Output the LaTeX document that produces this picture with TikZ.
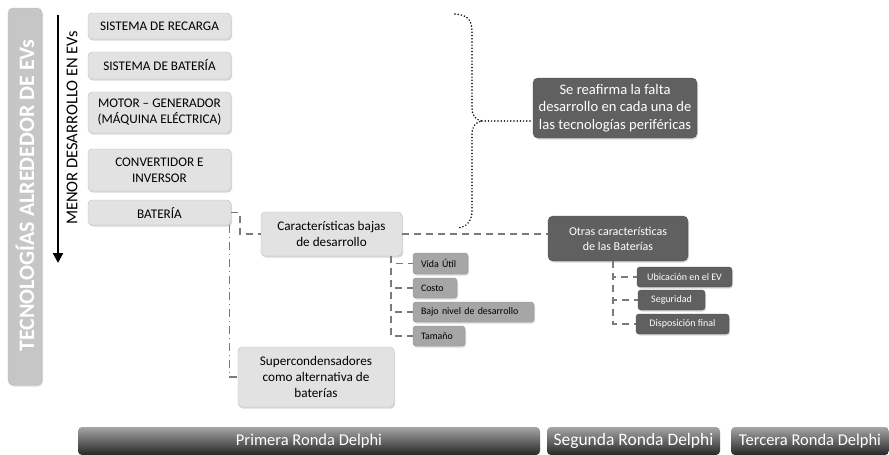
\documentclass[tikz,border=0pt]{standalone}
\usepackage{fontspec}
\setmainfont{Carlito}
\usetikzlibrary{arrows.meta,shadows}

\definecolor{boxlight}{HTML}{E2E2E2}
\definecolor{edgelight}{HTML}{BDBDBD}
\definecolor{boxmid}{HTML}{A6A6A6}
\definecolor{edgemid}{HTML}{8E8E8E}
\definecolor{boxdark}{HTML}{606060}
\definecolor{edgedark}{HTML}{505050}
\definecolor{boxtall}{HTML}{C6C6C6}
\definecolor{linegray}{HTML}{7A7A7A}

\tikzset{
  shade box/.style={drop shadow={shadow xshift=1pt,shadow yshift=-1.5pt,opacity=0.3}},
  tech/.style={shade box,draw=edgelight,fill=boxlight,rounded corners=4pt,align=center,
    inner sep=0pt,font=\fontsize{13.2}{16}\selectfont},
  note/.style={shade box,draw=edgedark,fill=boxdark,text=white,rounded corners=5pt,align=center,
    inner sep=0pt,font=\fontsize{12}{15}\selectfont},
  trait/.style={shade box,draw=edgemid,fill=boxmid,rounded corners=3pt,align=left,
    inner xsep=8pt,inner ysep=0pt,font=\fontsize{9.9}{11}\selectfont},
  trait dark/.style={shade box,draw=edgedark,fill=boxdark,text=white,rounded corners=3pt,align=center,
    inner sep=0pt,font=\fontsize{10}{11}\selectfont},
  round bar/.style={rounded corners=4pt,top color=gray!70,bottom color=black!85,draw=none,
    text=white,font=\fontsize{16.5}{18}\selectfont,inner sep=0pt},
  link/.style={linegray,line width=1.8pt,dash pattern=on 7pt off 5pt},
  link dot/.style={linegray,line width=1.3pt,dash pattern=on 8pt off 4pt on 0.8pt off 4pt},
  brace/.style={black,line width=1.7pt,line cap=round,dash pattern=on 0pt off 3.2pt},
}

\begin{document}
\begin{tikzpicture}[x=1pt,y=-1pt]
  \useasboundingbox (0,0) rectangle (889,455);

  % eje izquierdo
  \node[shade box,draw=gray!55,fill=boxtall,rounded corners=5pt,minimum width=34pt,minimum height=377pt,inner sep=0pt] (tall) at (25,196.5) {};
  \node[rotate=90,text=white,font=\fontsize{22}{24}\selectfont\bfseries] (talltext) at ([yshift=1pt]tall.center) {TECNOLOGÍAS ALREDEDOR DE EVs};
  \coordinate (axtop) at (58,15);
  \coordinate (axbot) at (58,263);
  \draw[line width=2.2pt,-{Triangle[width=10pt,length=10pt]}] (axtop) -- (axbot);
  \node[rotate=90,font=\fontsize{16.5}{18}\selectfont] (axis) at (72,128) {MENOR DESARROLLO EN EVs};

  % tecnologias
  \node[tech,minimum width=143pt,minimum height=26pt] (recarga) at (159.5,26) {SISTEMA DE RECARGA};
  \node[tech,minimum width=143pt,minimum height=27pt] (sistbat) at (159.5,65.5) {SISTEMA DE BATERÍA};
  \node[tech,minimum width=143pt,minimum height=41pt] (motor) at (159.5,112.5) {MOTOR – GENERADOR\\(MÁQUINA ELÉCTRICA)};
  \node[tech,minimum width=143pt,minimum height=42pt] (conv) at (159.5,170) {CONVERTIDOR E\\INVERSOR};
  \node[tech,minimum width=143pt,minimum height=25pt] (bat) at (159.5,212.5) {BATERÍA};

  % primera ronda
  \node[tech,minimum width=141pt,minimum height=44pt] (carac) at (331.5,234) {Características bajas\\de desarrollo};
  \node[tech,minimum width=156pt,minimum height=60pt] (super) at (316,377) {Supercondensadores\\como alternativa de\\baterías};
  \node[trait,text width=39pt,minimum height=21pt] (vida) at (440.5,263.5) {Vida Útil};
  \node[trait,text width=28pt,minimum height=20pt] (costo) at (435,288) {Costo};
  \node[trait,text width=105pt,minimum height=20pt] (bajo) at (473.5,312) {Bajo nivel de desarrollo};
  \node[trait,text width=36pt,minimum height=20pt] (tamano) at (439,336) {Tamaño};

  % segunda ronda
  \node[note,minimum width=164pt,minimum height=60pt,font=\fontsize{14.6}{17.5}\selectfont] (reaf) at (615,108) {Se reafirma la falta\\desarrollo en cada una de\\las tecnologías periféricas};
  \node[note,minimum width=140pt,minimum height=45pt] (otras) at (618,238.5) {Otras características\\de las Baterías};
  \node[trait dark,minimum width=95pt,minimum height=20pt] (ubic) at (684.5,277) {Ubicación en el EV};
  \node[trait dark,minimum width=67pt,minimum height=20pt] (segur) at (671.5,300) {Seguridad};
  \node[trait dark,minimum width=93pt,minimum height=20pt] (dispo) at (682.5,324) {Disposición final};

  % conectores
  \draw[link] (bat.east) -- ++(9,0) |- (carac.west);
  \draw[link dot] ([xshift=-2pt]bat.south east) |- (super.west);
  \draw[link] (carac.east) -- (carac.east -| otras.west);
  \foreach \t in {vida,costo,bajo,tamano}
    \draw[link] ([xshift=-11pt]carac.south east) |- (\t.west);
  \foreach \t in {ubic,segur,dispo}
    \draw[link] ([xshift=-5pt]otras.south) |- (\t.west);

  % llave punteada
  \coordinate (brtop) at (455,14);
  \coordinate (cusp) at (482,121);
  \coordinate (brbot) at (458,228);
  \draw[brace] (brtop) .. controls (468,15) and (472,20) .. (472,32) -- (472,108)
    .. controls (472,116) and (476,120) .. (cusp)
    .. controls (476,122) and (472,126) .. (472,134) -- (472,210)
    .. controls (472,222) and (466,227) .. (brbot);
  \draw[brace] (cusp) -- (cusp -| reaf.west);

  % rondas
  \node[round bar,minimum width=462pt,minimum height=28pt] (ronda1) at (309,441) {Primera Ronda Delphi};
  \node[round bar,minimum width=173pt,minimum height=28pt,font=\fontsize{17.5}{18}\selectfont] (ronda2) at (633.5,441) {Segunda Ronda Delphi};
  \node[round bar,minimum width=158pt,minimum height=28pt] (ronda3) at (810,441) {Tercera Ronda Delphi};
\end{tikzpicture}
\end{document}
